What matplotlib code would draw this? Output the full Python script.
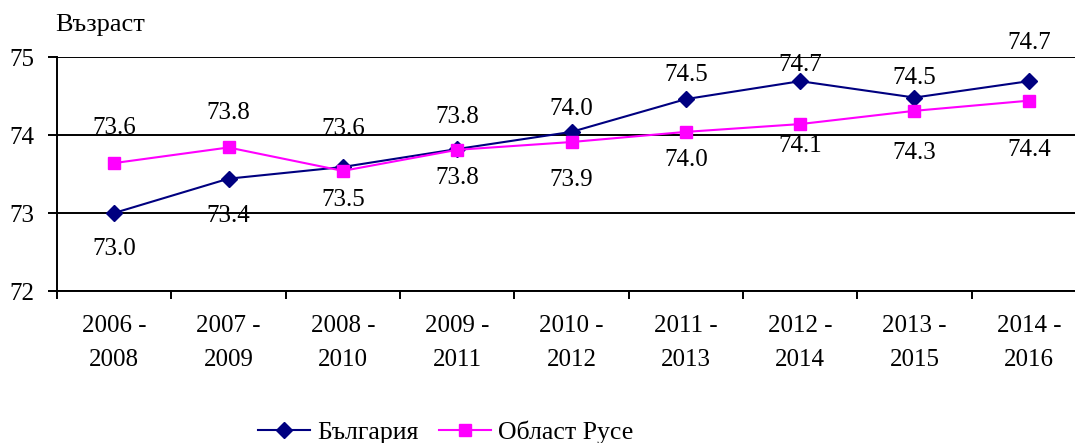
import numpy as np
import matplotlib
matplotlib.use('Agg')
import matplotlib.pyplot as plt
from matplotlib.ticker import FixedLocator

plt.rcParams['font.family'] = ['Liberation Serif', 'DejaVu Serif']

# Данни
periods = ['2006 -\n2008', '2007 -\n2009', '2008 -\n2010', '2009 -\n2011', '2010 -\n2012',
           '2011 -\n2013', '2012 -\n2014', '2013 -\n2015', '2014 -\n2016']
bulgaria = [73.00, 73.44, 73.59, 73.82, 74.04, 74.46, 74.69, 74.48, 74.69]
ruse = [73.64, 73.84, 73.54, 73.81, 73.91, 74.04, 74.14, 74.31, 74.44]

# отместване на етикетите (пиксели, + надолу)
bg_lbl_off = [36, 37, -38, -32, -23, -24, -16, -20, -38]
ru_lbl_off = [-35, -34, 29, 28, 38, 28, 22, 42, 49]

fs = 18
fig = plt.figure(figsize=(10.75, 4.43), dpi=100)
ax = fig.add_axes([57 / 1075, 1 - 291 / 443, 1029 / 1075, 234 / 443])

x = np.arange(len(periods))
ax.plot(x, bulgaria, color='#000080', lw=1.5, marker='D', ms=8.5, label='България', clip_on=False, zorder=3)
ax.plot(x, ruse, color='#FF00FF', lw=1.5, marker='s', ms=8.5, label='Област Русе', clip_on=False, zorder=4)

for xi, v, o in zip(x, bulgaria, bg_lbl_off):
    ax.annotate('%.1f' % v, (xi, v), xytext=(0, -o * 0.72), textcoords='offset points',
                ha='center', va='center', fontsize=fs)
for xi, v, o in zip(x, ruse, ru_lbl_off):
    ax.annotate('%.1f' % v, (xi, v), xytext=(0, -o * 0.72), textcoords='offset points',
                ha='center', va='center', fontsize=fs)

ax.set_xlim(-0.5, len(periods) - 0.5)
ax.set_ylim(72, 75)
ax.set_yticks([72, 73, 74, 75])
ax.yaxis.grid(True, color='black', lw=1.4)
ax.set_axisbelow(True)
ax.set_xticks(x)
ax.set_xticklabels(periods, fontsize=fs, linespacing=1.7)
ax.xaxis.set_minor_locator(FixedLocator(np.arange(-0.5, len(periods), 1)))
ax.tick_params(axis='x', which='major', length=0, pad=17)
ax.tick_params(axis='x', which='minor', length=6, width=1.4, direction='out')
ax.tick_params(axis='y', length=6.5, width=1.4, direction='out', pad=10, labelsize=fs)
for s in ['top', 'right']:
    ax.spines[s].set_visible(False)
for s in ['left', 'bottom']:
    ax.spines[s].set_linewidth(1.4)

fig.text(55 / 1075, 1 - 25 / 443, 'Възраст', fontsize=19, va='center', ha='left')

fig.legend(loc='center', bbox_to_anchor=(446 / 1075, 1 - 432 / 443), ncol=2, frameon=False,
           prop={'size': 18.5}, handlelength=2.0, handletextpad=0.3, columnspacing=0.8)

fig.savefig('out.png', dpi=100)
